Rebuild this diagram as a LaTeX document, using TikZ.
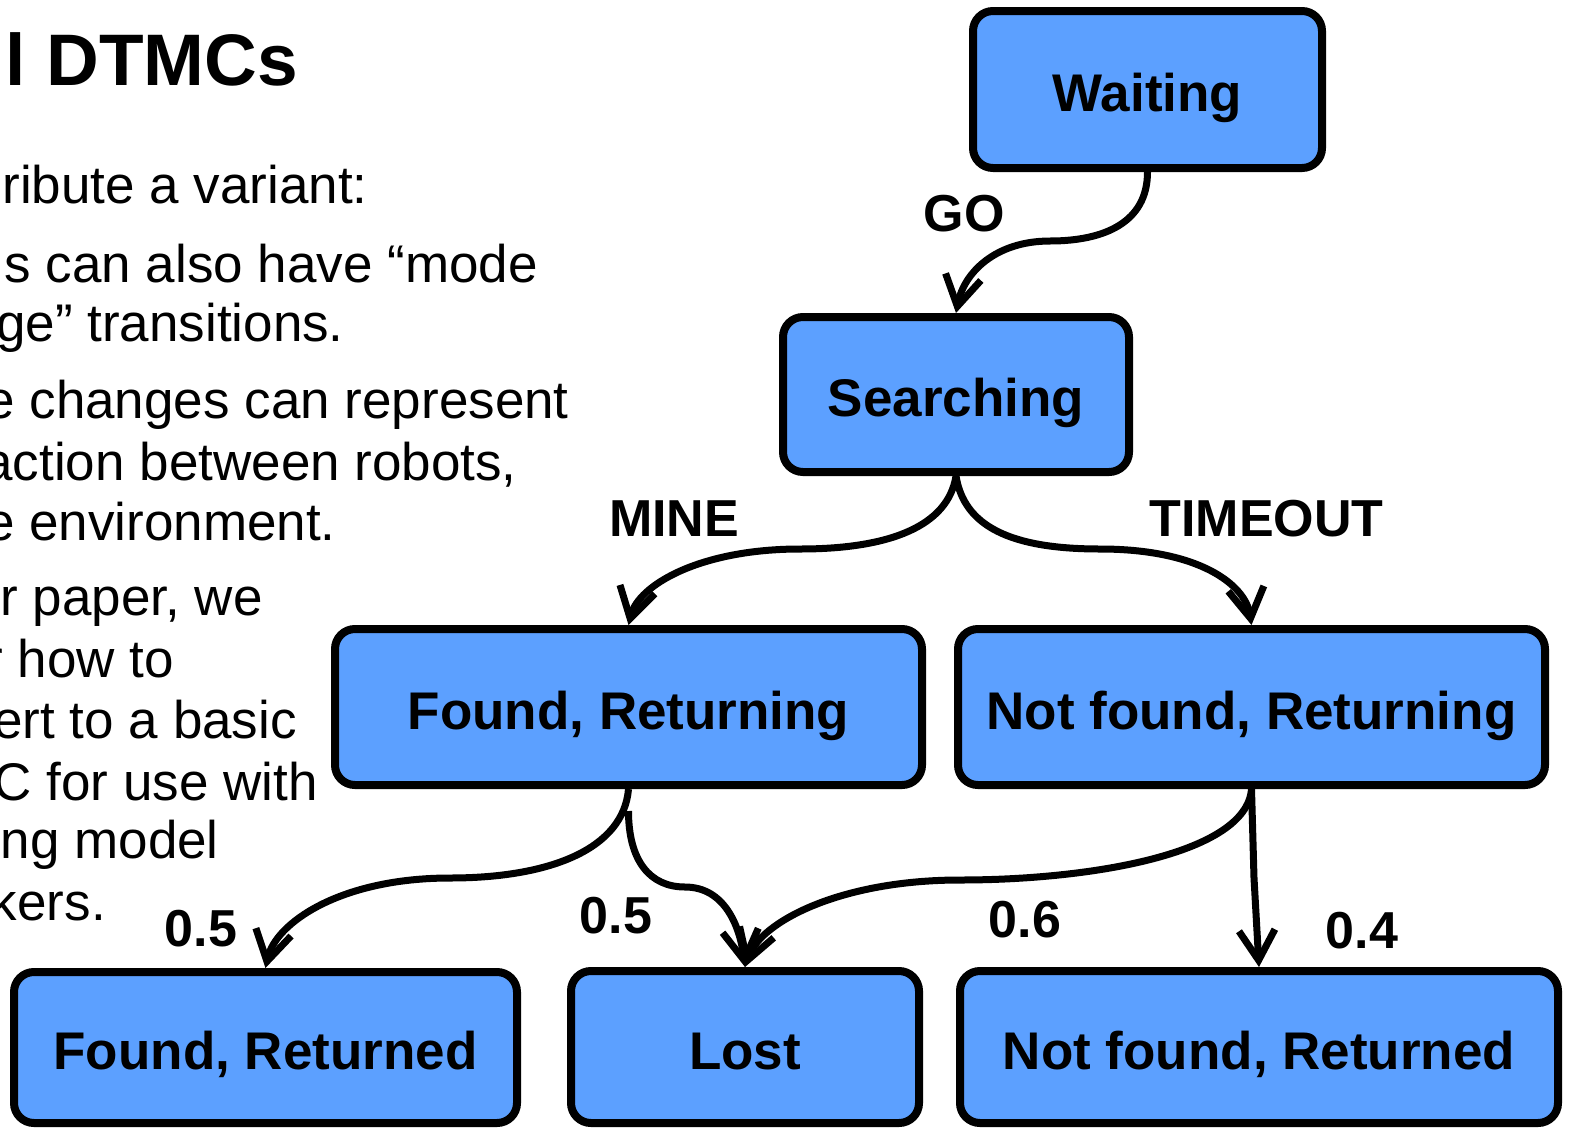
\documentclass[tikz,border=0pt]{standalone}
\usepackage{fontspec}
\setmainfont{Liberation Sans}
\usetikzlibrary{arrows.meta,calc}
\definecolor{statefill}{RGB}{92,160,255}

\begin{document}
\begin{tikzpicture}[x=1pt,y=-1pt,
  state/.style={draw=black, line width=8pt, fill=statefill, rounded corners=20pt,
    inner sep=0pt, font=\fontsize{53}{60}\selectfont\bfseries,
    text height=44pt, text depth=0pt},
  trans/.style={line width=7pt, -{Straight Barb[length=30pt,width=36pt]}},
  lbl/.style={font=\fontsize{52}{60}\selectfont\bfseries, inner sep=0pt,
    text height=37pt, text depth=0pt},
  body/.style={font=\fontsize{53}{60}\selectfont, inner sep=0pt, anchor=base east}]

\useasboundingbox (0,0) rectangle (1569,1130);
\clip (0,0) rectangle (1569,1130);

% slide text on the left
\node[inner sep=0pt, anchor=base east, font=\fontsize{73}{80}\selectfont\bfseries] (title) at (298,85) {l DTMCs};
\node[body] (t1)  at (368,203) {ribute a variant:};
\node[body] (t2)  at (538,282) {s can also have “mode};
\node[body] (t3)  at (344,341) {ge” transitions.};
\node[body] (t4)  at (569,418) {e changes can represent};
\node[body] (t5)  at (517,480) {action between robots,};
\node[body] (t6)  at (336,540) {e environment.};
\node[body] (t7)  at (263,615) {r paper, we};
\node[body] (t8)  at (174,677) {r how to};
\node[body] (t9)  at (297,738) {ert to a basic};
\node[body] (t10) at (318,800) {C for use with};
\node[body] (t11) at (219,858) {ng model};
\node[body] (t12) at (106,920) {kers.};

% states
\node[state, minimum width=349pt, minimum height=157pt] (w)    at (1147.5,89.5) {Waiting};
\node[state, minimum width=346pt, minimum height=155pt] (s)    at (956,394.5)   {Searching};
\node[state, minimum width=587pt, minimum height=156pt] (fr)   at (628.5,707)   {Found, Returning};
\node[state, minimum width=587pt, minimum height=156pt] (nfr)  at (1251.5,707)  {Not found, Returning};
\node[state, minimum width=503pt, minimum height=151pt] (frd)  at (265.5,1047.5) {Found, Returned};
\node[state, minimum width=348pt, minimum height=152pt] (lost) at (745,1047)    {Lost};
\node[state, minimum width=598pt, minimum height=152pt] (nfrd) at (1259,1047)   {Not found, Returned};

% transitions
\coordinate (frlost) at ($(fr.south)+(0,22)$);
\draw[trans] (w.south) .. controls +(0,50) and +(55,0) .. (1050,241)
  .. controls +(-55,0) and +(8,-40) .. (s.north);
\draw[trans] (s.south) .. controls +(-8,50) and +(90,0) .. (800,549)
  .. controls +(-100,0) and +(10,-40) .. (fr.north);
\draw[trans] (s.south) .. controls +(8,50) and +(-90,0) .. (1100,549)
  .. controls +(100,0) and +(-6,-40) .. (nfr.north);
\draw[trans] (fr.south) .. controls +(-5,60) and +(100,0) .. (450,878)
  .. controls +(-110,0) and +(10,-45) .. (frd.north);
\draw[trans] (frlost) .. controls +(0,50) and +(-35,0) .. (685,887)
  .. controls +(40,0) and +(-5,-40) .. (lost.north);
\draw[trans] (nfr.south) .. controls +(-5,65) and +(130,0) .. (960,880)
  .. controls +(-120,0) and +(15,-45) .. (lost.north);
\draw[trans] (nfr.south) -- (1254,878) -- (nfrd.north);

% transition labels
\node[lbl] (lgo)    at (964,213)    {GO};
\node[lbl] (lmine)  at (674,517.5)  {MINE};
\node[lbl] (ltime)  at (1266.5,517.5) {TIMEOUT};
\node[lbl] (lp1)    at (201,928)    {0.5};
\node[lbl] (lp2)    at (616,914.5)  {0.5};
\node[lbl] (lp3)    at (1025,919)   {0.6};
\node[lbl] (lp4)    at (1362,929.5) {0.4};
\end{tikzpicture}
\end{document}
